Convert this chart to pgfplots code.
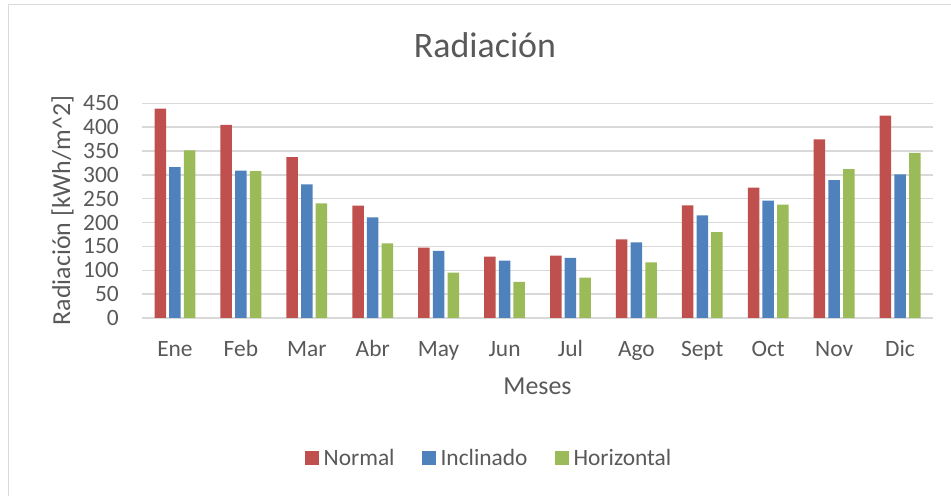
\documentclass[border=0pt]{standalone}
\usepackage{pgfplots}
\pgfplotsset{compat=1.18}
\usepackage{fontspec}
\setmainfont{Carlito}
\definecolor{xred}{HTML}{C0504D}
\definecolor{xblue}{HTML}{4F81BD}
\definecolor{xgreen}{HTML}{9BBB59}
\definecolor{xtext}{HTML}{595959}
\definecolor{xgrid}{HTML}{D9D9D9}

\begin{document}
\begin{tikzpicture}
  \useasboundingbox (0,0) rectangle (951bp,496bp);
  % chart frame (right and bottom edges fall outside the picture)
  \draw[xgrid, line width=1.3bp] (8.5bp,-20bp) -- (8.5bp,491.5bp) -- (980bp,491.5bp);

  \node[anchor=base, text=xtext, font=\fontsize{36}{40}\selectfont] at (485bp,438bp) {Radiación};

  \begin{axis}[at={(142bp,178bp)}, anchor=south west, scale only axis,
      width=791bp, height=214.7bp,
      ybar=3.2bp, bar width=11.5bp,
      xmin=-0.5, xmax=11.5, ymin=0, ymax=450,
      xtick={0,...,11},
      xticklabels={Ene,Feb,Mar,Abr,May,Jun,Jul,Ago,Sept,Oct,Nov,Dic},
      ytick={0,50,...,450},
      major tick length=0pt,
      axis line style={draw=none},
      ymajorgrids, grid style={xgrid, line width=1.4bp},
      /pgf/number format/assume math mode=true,
      tick label style={text=xtext, font=\fontsize{23.5}{26}\selectfont},
      yticklabel style={anchor=east, inner sep=0pt, xshift=-23bp},
      xticklabel style={anchor=base, inner sep=0pt, yshift=-38bp},
      legend columns=-1,
      legend style={at={(0.4387,-0.652)}, anchor=center, draw=none, fill=none,
        text=xtext, font=\fontsize{23.5}{26}\selectfont,
        /tikz/every odd column/.append style={column sep=3bp},
        /tikz/every even column/.append style={column sep=25bp}},
      legend image code/.code={\fill[#1] (0bp,-7bp) rectangle (14bp,7bp);},
    ]
    \addplot[fill=xred, draw=none] coordinates
      {(0,439)(1,405)(2,337)(3,235.5)(4,147.5)(5,128.6)(6,130.7)(7,165)(8,236)(9,273)(10,374.6)(11,424)};
    \addplot[fill=xblue, draw=none] coordinates
      {(0,316)(1,309)(2,280)(3,211)(4,140.5)(5,120)(6,126)(7,158.6)(8,215)(9,246)(10,289)(11,301)};
    \addplot[fill=xgreen, draw=none] coordinates
      {(0,351.5)(1,308)(2,240)(3,156.5)(4,95)(5,75.5)(6,84.5)(7,116.7)(8,180)(9,237.6)(10,312)(11,346)};
    \legend{Normal,Inclinado,Horizontal}
  \end{axis}

  \node[anchor=base, text=xtext, font=\fontsize{26}{30}\selectfont] at (537.5bp,101bp) {Meses};
  \node[anchor=base, rotate=90, text=xtext, font=\fontsize{26}{30}\selectfont] at (70bp,285.5bp) {Radiación [kWh/m\^{}2]};
\end{tikzpicture}
\end{document}
